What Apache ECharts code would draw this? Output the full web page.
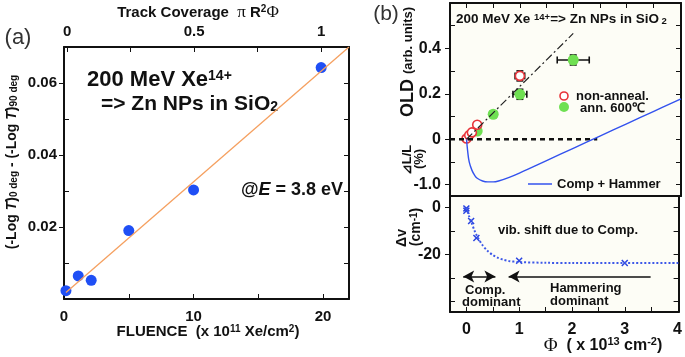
<!DOCTYPE html>
<html>
<head>
<meta charset="utf-8">
<script src="https://cdn.jsdelivr.net/npm/echarts@6/dist/echarts.min.js"></script>
<style>
html, body { margin: 0; padding: 0; background: #fff; }
#chart { width: 685px; height: 357px; }
</style>
</head>
<body>
<div id="chart"></div>
<script>
// (a) absorbance difference vs fluence
var fluenceX = [0.15, 1.1, 2.1, 5.0, 10.0, 19.85];
var absDiff = [0.0023, 0.0064, 0.0052, 0.019, 0.0303, 0.0643];
var fitX = [0.15, 22];
var fitY = [0.0018, 0.07];

// (b) OLD, upper panel
var naX = [0, 0.05, 0.1, 0.2, 1.0];
var naY = [0.003, 0.018, 0.03, 0.064, 0.279];
var annX = [0.2, 0.5, 1.0, 2.0];
var annY = [0.036, 0.11, 0.198, 0.349];
// [x, y, xerr, yerr]
var errBars = [
    [1.0, 0.279, 0.09, 0.022],
    [0.5, 0.11, 0.06, 0.008],
    [1.0, 0.198, 0.13, 0.022],
    [2.0, 0.349, 0.3, 0.022]
];
var guideX = [0, 2.0];
var guideY = [0, 0.466];
var zeroX = [-0.31, 2.45];
var zeroY = [0, 0];

// Comp + Hammer, dL/L (%)
var hamX = [0, 0.02, 0.05, 0.1, 0.15, 0.2, 0.3, 0.4, 0.5, 0.6, 0.8, 1.0, 1.5, 2.0, 2.5, 3.0, 3.5, 4.02];
var hamY = [0, -0.25, -0.5, -0.68, -0.79, -0.86, -0.92, -0.94, -0.94, -0.92, -0.84, -0.74, -0.47, -0.2, 0.07, 0.34, 0.61, 0.89];

// (b) vib. shift, lower panel
var dvX = [0, 0, 0.09, 0.19, 1.0, 3.0];
var dvY = [-0.3, -1.3, -5.7, -12.9, -22.6, -23.6];
var dvFitX = [0, 0.05, 0.1, 0.15, 0.2, 0.3, 0.4, 0.5, 0.6, 0.7, 0.8, 1.0, 1.5, 2.0, 3.0, 4.02];
var dvFitY = [0, -3.5, -6.5, -9.5, -12, -15.8, -18.4, -20.2, -21.4, -22.2, -22.7, -23.2, -23.5, -23.6, -23.6, -23.6];
var arrowY = -29.3;
var compArrow = [-0.06, 0.55];
var hamArrow = [0.8, 3.49];

function pairs(xs, ys) {
    return xs.map(function (x, i) { return [x, ys[i]]; });
}

var FONT = '"Liberation Sans", Arial, sans-serif';
var SERIF = '"Liberation Serif", "Times New Roman", serif';
var lbl = { fontFamily: FONT, fontWeight: 'bold', fontSize: 15, color: '#111' };
var axLine = { show: true, onZero: false, lineStyle: { color: '#111', width: 2 } };

function rs(size, extra) {
    var o = { fontFamily: FONT, fontWeight: 'bold', fontSize: size, fill: '#111', color: '#111' };
    for (var k in extra) o[k] = extra[k];
    return o;
}

// extra y axis that only draws inward minor ticks
function minorY(grid, min, max, ticks) {
    return { gridIndex: grid, type: 'value', position: 'left', min: min, max: max,
        axisLine: { show: false, onZero: false },
        axisTick: { inside: true, length: 5, customValues: ticks, lineStyle: { color: '#111' } },
        axisLabel: { show: false }, splitLine: { show: false } };
}

var dom = document.getElementById('chart');
var myChart = echarts.init(dom, null, { renderer: 'canvas' });

var option = {
    animation: false,
    backgroundColor: '#fff',
    grid: [
        { left: 64, top: 47, width: 285, height: 252 },
        { left: 450, top: 3, width: 231, height: 193, show: true, backgroundColor: '#fdfdf6', borderWidth: 0 },
        { left: 450, top: 196, width: 231, height: 116, show: true, backgroundColor: '#fdfdf6', borderWidth: 0 }
    ],
    xAxis: [
        { gridIndex: 0, type: 'value', position: 'bottom', min: 0, max: 22, axisLine: axLine,
          axisTick: { inside: true, length: 5, customValues: [0, 5, 10, 15, 20], lineStyle: { color: '#111' } },
          axisLabel: Object.assign({ customValues: [0, 10, 20], margin: 10 }, lbl), splitLine: { show: false } },
        { gridIndex: 0, type: 'value', position: 'top', min: -0.012, max: 1.11, axisLine: axLine,
          axisTick: { inside: true, length: 5, customValues: [0, 0.25, 0.5, 0.75, 1], lineStyle: { color: '#111' } },
          axisLabel: Object.assign({ customValues: [0, 0.5, 1], margin: 8 }, lbl), splitLine: { show: false } },
        { gridIndex: 1, type: 'value', position: 'bottom', min: -0.31, max: 4.02, axisLine: axLine,
          axisTick: { show: false }, axisLabel: { show: false }, splitLine: { show: false } },
        { gridIndex: 1, type: 'value', position: 'top', min: -0.31, max: 4.02, axisLine: axLine,
          axisTick: { inside: true, length: 5, customValues: [0, 0.5, 1, 1.5, 2, 2.5, 3, 3.5], lineStyle: { color: '#111' } },
          axisLabel: { show: false }, splitLine: { show: false } },
        { gridIndex: 2, type: 'value', position: 'bottom', min: -0.31, max: 4.02, axisLine: axLine,
          axisTick: { inside: true, length: 5, customValues: [0, 0.5, 1, 1.5, 2, 2.5, 3, 3.5], lineStyle: { color: '#111' } },
          axisLabel: Object.assign({ customValues: [0, 1, 2, 3, 4], margin: 10 }, lbl, { fontSize: 16 }), splitLine: { show: false } }
    ],
    yAxis: [
        { gridIndex: 0, type: 'value', position: 'left', min: 0, max: 0.07, axisLine: axLine,
          axisTick: { inside: false, length: 5, customValues: [0.02, 0.04, 0.06], lineStyle: { color: '#111' } },
          axisLabel: Object.assign({ customValues: [0.02, 0.04, 0.06], margin: 7, formatter: function (v) { return v.toFixed(2); } }, lbl),
          splitLine: { show: false } },
        { gridIndex: 0, type: 'value', position: 'right', min: 0, max: 0.07, axisLine: axLine,
          axisTick: { inside: true, length: 5, customValues: [0.01, 0.02, 0.03, 0.04, 0.05, 0.06], lineStyle: { color: '#111' } },
          axisLabel: { show: false }, splitLine: { show: false } },
        { gridIndex: 1, type: 'value', position: 'left', min: -0.25, max: 0.6, axisLine: axLine,
          axisTick: { inside: false, length: 5, customValues: [0, 0.2, 0.4], lineStyle: { color: '#111' } },
          axisLabel: Object.assign({ customValues: [0, 0.2, 0.4], margin: 9, formatter: function (v) { return v === 0 ? '0' : v.toFixed(1); } }, lbl, { fontSize: 16 }),
          splitLine: { show: false } },
        { gridIndex: 1, type: 'value', position: 'right', min: -0.25, max: 0.6, axisLine: axLine,
          axisTick: { inside: true, length: 5, customValues: [-0.2, -0.1, 0, 0.1, 0.2, 0.3, 0.4, 0.5], lineStyle: { color: '#111' } },
          axisLabel: { show: false }, splitLine: { show: false } },
        { gridIndex: 1, type: 'value', position: 'left', min: -1.25, max: 3.0, axisLine: { show: false, onZero: false },
          axisTick: { inside: false, length: 5, customValues: [-1], lineStyle: { color: '#111' } },
          axisLabel: Object.assign({ customValues: [-1], margin: 9, formatter: function (v) { return v.toFixed(1); } }, lbl, { fontSize: 16 }),
          splitLine: { show: false } },
        { gridIndex: 2, type: 'value', position: 'left', min: -44.5, max: 5, axisLine: axLine,
          axisTick: { inside: false, length: 5, customValues: [0, -20], lineStyle: { color: '#111' } },
          axisLabel: Object.assign({ customValues: [0, -20], margin: 9 }, lbl, { fontSize: 16 }), splitLine: { show: false } },
        { gridIndex: 2, type: 'value', position: 'right', min: -44.5, max: 5, axisLine: axLine,
          axisTick: { inside: true, length: 5, customValues: [0, -10, -20, -30, -40], lineStyle: { color: '#111' } },
          axisLabel: { show: false }, splitLine: { show: false } },
        minorY(0, 0, 0.07, [0.01, 0.03, 0.05]),
        minorY(1, -0.25, 0.6, [-0.1, 0.1, 0.3, 0.5]),
        minorY(1, -1.25, 3.0, [-0.5]),
        minorY(2, -44.5, 5, [-10, -30, -40])
    ],
    series: [
        { name: 'fit', type: 'line', xAxisIndex: 0, yAxisIndex: 0, data: pairs(fitX, fitY), showSymbol: false,
          lineStyle: { color: '#f5a060', width: 1.3 } },
        { name: 'fluence', type: 'scatter', xAxisIndex: 0, yAxisIndex: 0, data: pairs(fluenceX, absDiff),
          symbolSize: 11, itemStyle: { color: '#1f4ff5', opacity: 1 } },

        { name: 'zero', type: 'line', xAxisIndex: 2, yAxisIndex: 2, data: pairs(zeroX, zeroY), showSymbol: false,
          lineStyle: { color: '#111', width: 2.5, type: [5, 4] } },
        { name: 'guide', type: 'line', xAxisIndex: 2, yAxisIndex: 2, data: pairs(guideX, guideY), showSymbol: false,
          lineStyle: { color: '#222', width: 1.2, type: [8, 3, 2, 3] } },
        { name: 'Comp + Hammer', type: 'line', xAxisIndex: 2, yAxisIndex: 4, data: pairs(hamX, hamY), showSymbol: false,
          smooth: 0.4, lineStyle: { color: '#3352ee', width: 1.4 } },
        { name: 'err', type: 'custom', xAxisIndex: 2, yAxisIndex: 2, data: errBars, encode: { x: 0, y: 1 },
          renderItem: function (params, api) {
              var x = api.value(0), y = api.value(1), ex = api.value(2), ey = api.value(3);
              var l = api.coord([x - ex, y]), r = api.coord([x + ex, y]);
              var t = api.coord([x, y + ey]), b = api.coord([x, y - ey]);
              var st = { stroke: '#111', lineWidth: 1.6 };
              var c = 3.5;
              return { type: 'group', children: [
                  { type: 'line', shape: { x1: l[0], y1: l[1], x2: r[0], y2: r[1] }, style: st },
                  { type: 'line', shape: { x1: t[0], y1: t[1], x2: b[0], y2: b[1] }, style: st },
                  { type: 'line', shape: { x1: l[0], y1: l[1] - c, x2: l[0], y2: l[1] + c }, style: st },
                  { type: 'line', shape: { x1: r[0], y1: r[1] - c, x2: r[0], y2: r[1] + c }, style: st },
                  { type: 'line', shape: { x1: t[0] - c, y1: t[1], x2: t[0] + c, y2: t[1] }, style: st },
                  { type: 'line', shape: { x1: b[0] - c, y1: b[1], x2: b[0] + c, y2: b[1] }, style: st }
              ] };
          } },
        { name: 'ann. 600', type: 'scatter', xAxisIndex: 2, yAxisIndex: 2, data: pairs(annX, annY),
          symbolSize: 11, itemStyle: { color: '#6fe052', opacity: 1 } },
        { name: 'non-anneal.', type: 'scatter', xAxisIndex: 2, yAxisIndex: 2, data: pairs(naX, naY),
          symbolSize: 9, itemStyle: { color: '#fff', borderColor: '#e8343a', borderWidth: 1.6, opacity: 1 } },

        { name: 'dvfit', type: 'line', xAxisIndex: 4, yAxisIndex: 5, data: pairs(dvFitX, dvFitY), showSymbol: false,
          smooth: 0.3, lineStyle: { color: '#3d58e8', width: 2, type: [2, 2] },
          markLine: { silent: true, symbolSize: [9, 11], label: { show: false },
              lineStyle: { color: '#111', width: 1.6, type: 'solid' },
              data: [
                  [{ coord: [compArrow[0], arrowY], symbol: 'arrow' }, { coord: [compArrow[1], arrowY], symbol: 'arrow' }],
                  [{ coord: [hamArrow[0], arrowY], symbol: 'arrow' }, { coord: [hamArrow[1], arrowY], symbol: 'none' }]
              ] } },
        { name: 'dv', type: 'scatter', xAxisIndex: 4, yAxisIndex: 5, data: pairs(dvX, dvY),
          symbol: 'path://M0,1.5L1.5,0L5,3.5L8.5,0L10,1.5L6.5,5L10,8.5L8.5,10L5,6.5L1.5,10L0,8.5L3.5,5Z',
          symbolSize: 7, itemStyle: { color: '#2a44e0', opacity: 1 } }
    ],
    graphic: [
        // panel (a)
        { type: 'text', x: 18, y: 38, style: { text: '(a)', font: '22px ' + FONT, fill: '#333', align: 'center', verticalAlign: 'middle' } },
        { type: 'text', x: 198, y: 13, style: { text: '{b|Track Coverage  }{g|π}{b| R}{sup|2}{g|Φ}', align: 'center', verticalAlign: 'middle',
            rich: { b: rs(15), sup: rs(10, { verticalAlign: 'top' }), g: rs(17, { fontFamily: SERIF, fontWeight: 'normal' }) } } },
        { type: 'text', x: 208, y: 332, style: { text: '{b|FLUENCE  (x 10}{sup|11}{b| Xe/cm}{sup|2}{b|)}', align: 'center', verticalAlign: 'middle',
            rich: { b: rs(15), sup: rs(10, { verticalAlign: 'top' }) } } },
        { type: 'text', x: 12, y: 162, rotation: Math.PI / 2,
          style: { text: '{b|(-Log }{i|T}{b|)}{sub|0 deg}{b| - (-Log }{i|T}{b|)}{sub|90 deg}', align: 'center', verticalAlign: 'middle',
            rich: { b: rs(14), i: rs(14, { fontStyle: 'italic' }), sub: rs(10, { verticalAlign: 'bottom' }) } } },
        { type: 'text', x: 87, y: 80, style: { text: '{b|200 MeV Xe}{sup|14+}', align: 'left', verticalAlign: 'middle',
            rich: { b: rs(22), sup: rs(14, { verticalAlign: 'top' }) } } },
        { type: 'text', x: 101, y: 104, style: { text: '{b|=> Zn NPs in SiO}{sub|2}', align: 'left', verticalAlign: 'middle',
            rich: { b: rs(21), sub: rs(14, { verticalAlign: 'bottom' }) } } },
        { type: 'text', x: 343, y: 190, style: { text: '{b|@}{i|E}{b| = 3.8 eV}', align: 'right', verticalAlign: 'middle',
            rich: { b: rs(18), i: rs(18, { fontStyle: 'italic' }) } } },

        // panel (b)
        { type: 'text', x: 386, y: 14, style: { text: '(b)', font: '21px ' + FONT, fill: '#333', align: 'center', verticalAlign: 'middle' } },
        { type: 'text', x: 456, y: 19, style: { text: '{b|200 MeV Xe }{sup|14+}{b|=> Zn NPs in SiO}{sub| 2}', align: 'left', verticalAlign: 'middle',
            rich: { b: rs(13.5), sup: rs(9.5, { verticalAlign: 'top' }), sub: rs(9.5, { verticalAlign: 'bottom' }) } } },
        { type: 'text', x: 408, y: 62, rotation: Math.PI / 2,
          style: { text: '{big|OLD }{b|(arb. units)}', align: 'center', verticalAlign: 'middle',
            rich: { big: rs(18), b: rs(13) } } },
        { type: 'text', x: 407, y: 160, rotation: Math.PI / 2,
          style: { text: '⊿L/L', font: 'bold 13px ' + FONT, fill: '#111', align: 'center', verticalAlign: 'middle' } },
        { type: 'text', x: 419, y: 159, rotation: Math.PI / 2,
          style: { text: '(%)', font: 'bold 13px ' + FONT, fill: '#111', align: 'center', verticalAlign: 'middle' } },
        { type: 'text', x: 402, y: 238, rotation: Math.PI / 2,
          style: { text: 'Δv', font: 'bold 14px ' + FONT, fill: '#111', align: 'center', verticalAlign: 'middle' } },
        { type: 'text', x: 416, y: 227, rotation: Math.PI / 2,
          style: { text: '{b|(cm}{sup|-1}{b|)}', align: 'center', verticalAlign: 'middle',
            rich: { b: rs(14), sup: rs(10, { verticalAlign: 'top' }) } } },
        { type: 'text', x: 603, y: 346, style: { text: '{g|Φ}{b|  ( x 10}{sup|13}{b| cm}{sup|-2}{b|)}', align: 'center', verticalAlign: 'middle',
            rich: { b: rs(16), sup: rs(11, { verticalAlign: 'top' }), g: rs(19, { fontFamily: SERIF, fontWeight: 'normal' }) } } },

        // legend (b)
        { type: 'circle', shape: { cx: 564, cy: 96, r: 4 }, style: { fill: '#fff', stroke: '#e8343a', lineWidth: 1.6 } },
        { type: 'text', x: 576, y: 96, style: { text: 'non-anneal.', font: 'bold 13px ' + FONT, fill: '#111', align: 'left', verticalAlign: 'middle' } },
        { type: 'circle', shape: { cx: 564, cy: 107, r: 5 }, style: { fill: '#6fe052' } },
        { type: 'text', x: 580, y: 108, style: { text: 'ann. 600℃', font: 'bold 13px ' + FONT, fill: '#111', align: 'left', verticalAlign: 'middle' } },
        { type: 'line', shape: { x1: 528, y1: 184, x2: 552, y2: 184 }, style: { stroke: '#3352ee', lineWidth: 1.5 } },
        { type: 'text', x: 557, y: 184, style: { text: 'Comp + Hammer', font: 'bold 13px ' + FONT, fill: '#111', align: 'left', verticalAlign: 'middle' } },

        // lower panel notes
        { type: 'text', x: 568, y: 230, style: { text: 'vib. shift due to Comp.', font: 'bold 13px ' + FONT, fill: '#111', align: 'center', verticalAlign: 'middle' } },
        { type: 'text', x: 465, y: 290, style: { text: 'Comp.', font: 'bold 13px ' + FONT, fill: '#111', align: 'left', verticalAlign: 'middle' } },
        { type: 'text', x: 462, y: 302, style: { text: 'dominant', font: 'bold 13px ' + FONT, fill: '#111', align: 'left', verticalAlign: 'middle' } },
        { type: 'text', x: 550, y: 288, style: { text: 'Hammering', font: 'bold 13px ' + FONT, fill: '#111', align: 'left', verticalAlign: 'middle' } },
        { type: 'text', x: 550, y: 301, style: { text: 'dominant', font: 'bold 13px ' + FONT, fill: '#111', align: 'left', verticalAlign: 'middle' } }
    ]
};

myChart.setOption(option);
window.onresize = myChart.resize;
</script>
</body>
</html>
